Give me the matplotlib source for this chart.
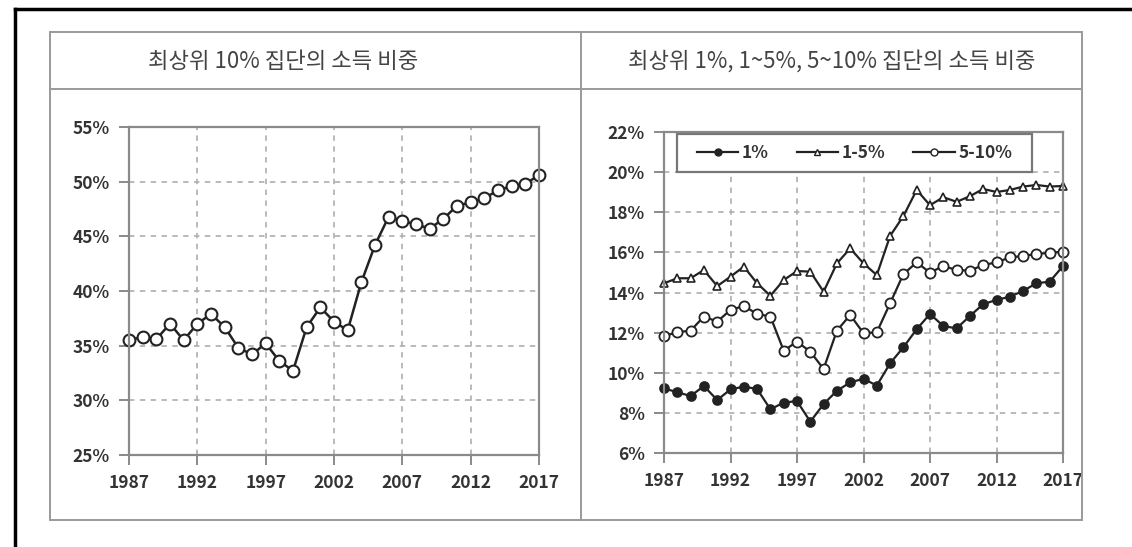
import matplotlib
matplotlib.use("Agg")
import matplotlib.pyplot as plt
from matplotlib.patches import Rectangle
from matplotlib.lines import Line2D

plt.rcParams['font.family'] = ['Noto Sans CJK KR', 'DejaVu Sans']

years = list(range(1987, 2018))

top10 = [35.5, 35.8, 35.6, 37.0, 35.5, 37.0, 37.9, 36.7, 34.8, 34.2,
         35.2, 33.6, 32.7, 36.7, 38.5, 37.2, 36.4, 40.8, 44.2, 46.8,
         46.4, 46.1, 45.7, 46.6, 47.8, 48.1, 48.5, 49.2, 49.6, 49.8, 50.6]

top1 = [9.22, 9.03, 8.84, 9.34, 8.64, 9.17, 9.31, 9.19, 8.18, 8.51,
        8.59, 7.56, 8.44, 9.10, 9.52, 9.70, 9.36, 10.47, 11.27, 12.17,
        12.93, 12.33, 12.21, 12.83, 13.42, 13.63, 13.79, 14.08, 14.46, 14.54, 15.32]

top1_5 = [14.46, 14.71, 14.71, 15.12, 14.32, 14.79, 15.29, 14.46, 13.84, 14.62,
          15.07, 15.04, 14.04, 15.45, 16.20, 15.45, 14.87, 16.82, 17.81, 19.11,
          18.35, 18.75, 18.52, 18.80, 19.16, 19.01, 19.11, 19.28, 19.36, 19.28, 19.31]

top5_10 = [11.83, 12.02, 12.10, 12.80, 12.55, 13.13, 13.33, 12.93, 12.80, 11.10,
           11.55, 11.05, 10.19, 12.10, 12.88, 11.97, 12.02, 13.46, 14.92, 15.50,
           14.99, 15.32, 15.12, 15.09, 15.37, 15.50, 15.75, 15.82, 15.92, 15.98, 16.03]

xticks = [1987, 1992, 1997, 2002, 2007, 2012, 2017]
left_yticks = [25, 30, 35, 40, 45, 50, 55]
right_yticks = [6, 8, 10, 12, 14, 16, 18, 20, 22]

title_left = "최상위 10% 집단의 소득 비중"
title_right = "최상위 1%, 1~5%, 5~10% 집단의 소득 비중"
legend_labels = ["1%", "1-5%", "5-10%"]

W, H = 1132, 547
fig = plt.figure(figsize=(W / 100, H / 100), dpi=100)
fig.patch.set_facecolor("white")

def fx(px):
    return px / W

def fy(py):
    return 1 - py / H

# outer black frame (top and left)
fig.add_artist(Line2D([fx(15), 1.0], [fy(9), fy(9)], color="black", lw=2.5))
fig.add_artist(Line2D([fx(15), fx(15)], [0, fy(9)], color="black", lw=2.5))

# gray box with header row and divider
box_c = "#9a9a9a"
fig.add_artist(Rectangle((fx(50), fy(520)), fx(1082) - fx(50), fy(32) - fy(520),
                         fill=False, edgecolor=box_c, lw=1.4))
fig.add_artist(Line2D([fx(50), fx(1082)], [fy(89), fy(89)], color=box_c, lw=1.4))
fig.add_artist(Line2D([fx(581), fx(581)], [fy(520), fy(32)], color=box_c, lw=1.4))

fig.text(fx(283), fy(61), title_left, ha="center", va="center",
         fontsize=16, color="#444444")
fig.text(fx(831.5), fy(61), title_right, ha="center", va="center",
         fontsize=16, color="#444444")

spine_c = "#8a8a8a"
grid_c = "#b4b4b4"
line_c = "#222222"

def style_axes(ax):
    for s in ax.spines.values():
        s.set_color(spine_c)
        s.set_linewidth(1.6)
    ax.tick_params(axis="both", colors=spine_c, length=7, width=1.4,
                   direction="out", labelcolor="#333333", labelsize=12.5)
    ax.tick_params(axis="y", pad=7)
    ax.tick_params(axis="x", pad=7)
    for lab in ax.get_xticklabels() + ax.get_yticklabels():
        lab.set_fontweight("bold")
    ax.grid(True, color=grid_c, linestyle=(0, (3, 3)), linewidth=1.3)
    ax.set_axisbelow(True)

# Left panel
ax1 = fig.add_axes([fx(129), fy(455), fx(539) - fx(129), fy(127) - fy(455)])
ax1.plot(years, top10, color=line_c, lw=1.8, marker="o", ms=8.5,
         markerfacecolor="white", markeredgecolor=line_c, mew=1.5)
ax1.set_xlim(1987, 2017)
ax1.set_ylim(25, 55)
ax1.set_xticks(xticks)
ax1.set_yticks(left_yticks)
ax1.set_yticklabels([f"{v}%" for v in left_yticks])
style_axes(ax1)
for p in ax1.lines:
    p.set_clip_on(False)

# Right panel
ax2 = fig.add_axes([fx(664), fy(453), fx(1063) - fx(664), fy(132) - fy(453)])
l1, = ax2.plot(years, top1, color=line_c, lw=1.6, marker="o", ms=6.5,
               markerfacecolor=line_c, markeredgecolor=line_c, mew=1.2)
l2, = ax2.plot(years, top1_5, color=line_c, lw=1.6, marker="^", ms=6.3,
               markerfacecolor="white", markeredgecolor=line_c, mew=1.2)
l3, = ax2.plot(years, top5_10, color=line_c, lw=1.6, marker="o", ms=7.3,
               markerfacecolor="white", markeredgecolor=line_c, mew=1.3)
for p in (l1, l2, l3):
    p.set_clip_on(False)
ax2.set_xlim(1987, 2017)
ax2.set_ylim(6, 22)
ax2.set_xticks(xticks)
ax2.set_yticks(right_yticks)
ax2.set_yticklabels([f"{v}%" for v in right_yticks])
style_axes(ax2)

# legend frame + legend
x0 = (677 - 664) / 399
x1 = (1032 - 664) / 399
y0 = (453 - 172) / 321
y1 = (453 - 134) / 321
ax2.add_patch(Rectangle((x0, y0), x1 - x0, y1 - y0, transform=ax2.transAxes,
                        facecolor="white", edgecolor="#777777", lw=1.6, zorder=5))
h1 = Line2D([], [], color=line_c, lw=1.6, marker="o", ms=5, markerfacecolor=line_c,
            markeredgecolor=line_c)
h2 = Line2D([], [], color=line_c, lw=1.6, marker="^", ms=5, markerfacecolor="white",
            markeredgecolor=line_c)
h3 = Line2D([], [], color=line_c, lw=1.6, marker="o", ms=5, markerfacecolor="white",
            markeredgecolor=line_c)
leg = ax2.legend([h1, h2, h3], legend_labels, loc="center",
                 bbox_to_anchor=((x0 + x1) / 2, (y0 + y1) / 2), ncol=3,
                 frameon=False, handlelength=2.4, handletextpad=0.2,
                 columnspacing=1.6, borderaxespad=0,
                 prop={"size": 12.5, "weight": "bold"})
leg.set_zorder(6)
for t in leg.get_texts():
    t.set_color("#333333")

fig.savefig("out.png", dpi=100, facecolor="white")
